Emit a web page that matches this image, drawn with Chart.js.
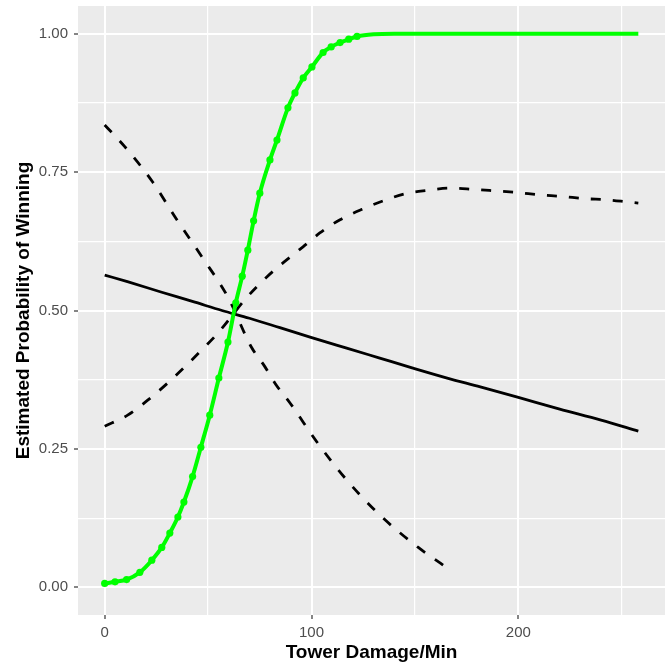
<!DOCTYPE html>
<html>
<head>
<meta charset="utf-8">
<script src="https://cdn.jsdelivr.net/npm/chart.js@4.4.1/dist/chart.umd.min.js"></script>
<style>
  body { margin: 0; background: #ffffff; }
  #wrap { width: 670px; height: 665px; }
</style>
</head>
<body>
<div id="wrap"><canvas id="myChart" width="670" height="665"></canvas></div>
<script>
// values
let xTicks = [0, 50, 100, 150, 200, 250];
let xLabels = ["0", "", "100", "", "200", ""];
let yTicks = [0, 0.125, 0.25, 0.375, 0.5, 0.625, 0.75, 0.875, 1];
let yLabels = ["0.00", "", "0.25", "", "0.50", "", "0.75", "", "1.00"];

let solidX = [0, 11, 27.6, 43.6, 56.7, 70, 84.7, 99.3, 117, 133, 149, 165.6, 181.6, 200, 220, 240, 258];
let solidY = [0.564, 0.552, 0.533, 0.515, 0.5, 0.486, 0.469, 0.452, 0.432, 0.414, 0.396, 0.378, 0.362, 0.343, 0.322, 0.302, 0.282];

let fallX = [0, 9.7, 23.2, 34.9, 47, 59.6, 70.9, 77.2, 83, 89.6, 102.7, 117.2, 133.2, 151.6, 163.7];
let fallY = [0.835, 0.796, 0.732, 0.664, 0.597, 0.524, 0.434, 0.4, 0.365, 0.333, 0.262, 0.193, 0.13, 0.072, 0.04];

let riseX = [0, 11.1, 20.8, 30.5, 38.7, 47, 54.7, 68.8, 78.5, 86.2, 95.9, 104, 113.8, 124.5, 134.6, 145.3, 156.4, 167, 177.7, 188.9, 199.5, 210.2, 221.3, 232, 243, 253, 258];
let riseY = [0.291, 0.311, 0.338, 0.369, 0.398, 0.429, 0.459, 0.524, 0.561, 0.586, 0.615, 0.64, 0.664, 0.683, 0.698, 0.711, 0.717, 0.721, 0.719, 0.716, 0.713, 0.709, 0.706, 0.702, 0.7, 0.696, 0.694];

let greenX = [0, 5, 10.6, 17, 22.8, 27.6, 31.5, 35.4, 38.3, 42.5, 46.5, 50.8, 55.2, 59.6, 63.4, 66.5, 69.2, 72, 75, 79.9, 83.3, 88.6, 92, 96, 100.2, 105.6, 109.5, 113.8, 118, 122, 130, 140, 258];
let greenY = [0.007, 0.01, 0.014, 0.027, 0.049, 0.072, 0.098, 0.127, 0.154, 0.2, 0.253, 0.311, 0.378, 0.443, 0.514, 0.562, 0.609, 0.662, 0.712, 0.772, 0.808, 0.866, 0.893, 0.92, 0.94, 0.966, 0.976, 0.984, 0.99, 0.995, 0.999, 1, 1];

function toPoints(xs, ys) {
  let pts = [];
  for (let i = 0; i < xs.length; i++) {
    pts.push({ x: xs[i], y: ys[i] });
  }
  return pts;
}

function isMajor(list, value) {
  let i = list.indexOf(value);
  return i >= 0 && (i % 2 === 0);
}

// grey ggplot panel behind the grid
let panelBg = {
  id: "panelBg",
  beforeDraw(chart) {
    let a = chart.chartArea;
    let ctx = chart.ctx;
    ctx.save();
    ctx.fillStyle = "#EBEBEB";
    ctx.fillRect(a.left, a.top, a.right - a.left, a.bottom - a.top);
    ctx.restore();
  },
};

let tickFont = { family: "'Liberation Sans', Arial, sans-serif", size: 15 };
let titleFont = { family: "'Liberation Sans', Arial, sans-serif", size: 19, weight: "bold" };

const ctx = document.getElementById("myChart");

new Chart(ctx, {
  type: "line",
  data: {
    datasets: [
      {
        label: "green",
        data: toPoints(greenX, greenY),
        borderColor: "#00FF00",
        backgroundColor: "#00FF00",
        borderWidth: 4,
        pointRadius: (c) => (c.raw && c.raw.x <= 125 ? 3.6 : 0),
        pointBorderWidth: 0,
        cubicInterpolationMode: "monotone",
        order: 0,
      },
      {
        label: "solid",
        data: toPoints(solidX, solidY),
        borderColor: "#000000",
        borderWidth: 2.8,
        pointRadius: 0,
        cubicInterpolationMode: "monotone",
        order: 1,
      },
      {
        label: "falling",
        data: toPoints(fallX, fallY),
        borderColor: "#000000",
        borderWidth: 2.8,
        borderDash: [10, 12],
        pointRadius: 0,
        cubicInterpolationMode: "monotone",
        order: 1,
      },
      {
        label: "rising",
        data: toPoints(riseX, riseY),
        borderColor: "#000000",
        borderWidth: 2.8,
        borderDash: [10, 12],
        pointRadius: 0,
        cubicInterpolationMode: "monotone",
        order: 1,
      },
    ],
  },
  options: {
    responsive: false,
    animation: false,
    layout: {
      padding: { top: 6, right: 5, left: 0, bottom: 0 },
    },
    plugins: {
      legend: { display: false },
      tooltip: { enabled: false },
    },
    scales: {
      x: {
        type: "linear",
        min: -12.9,
        max: 270.9,
        afterBuildTicks: (scale) => {
          scale.ticks = xTicks.map((v) => ({ value: v }));
        },
        afterFit: (scale) => {
          scale.height = 50;
          scale.paddingLeft = 0;
          scale.paddingRight = 0;
        },
        border: { display: false },
        grid: {
          color: "#FFFFFF",
          lineWidth: (c) => (c.tick && isMajor(xTicks, c.tick.value) ? 2 : 1.2),
          tickColor: (c) => (c.tick && isMajor(xTicks, c.tick.value) ? "#333333" : "rgba(0,0,0,0)"),
          tickLength: 4,
          tickWidth: 1.2,
        },
        ticks: {
          autoSkip: false,
          maxRotation: 0,
          padding: 5,
          color: "#4D4D4D",
          font: tickFont,
          callback: (value) => {
            let i = xTicks.indexOf(value);
            return i >= 0 ? xLabels[i] : "";
          },
        },
        title: {
          display: true,
          text: "Tower Damage/Min",
          color: "#000000",
          font: titleFont,
          padding: { top: 0, bottom: 1 },
        },
      },
      y: {
        type: "linear",
        min: -0.05,
        max: 1.05,
        afterBuildTicks: (scale) => {
          scale.ticks = yTicks.map((v) => ({ value: v }));
        },
        afterFit: (scale) => {
          scale.width = 78;
          scale.paddingTop = 0;
          scale.paddingBottom = 0;
        },
        border: { display: false },
        grid: {
          color: "#FFFFFF",
          lineWidth: (c) => (c.tick && isMajor(yTicks, c.tick.value) ? 2 : 1.2),
          tickColor: (c) => (c.tick && isMajor(yTicks, c.tick.value) ? "#333333" : "rgba(0,0,0,0)"),
          tickLength: 4,
          tickWidth: 1.2,
        },
        ticks: {
          autoSkip: false,
          padding: 6,
          color: "#4D4D4D",
          font: tickFont,
          callback: (value) => {
            let i = yTicks.indexOf(value);
            return i >= 0 ? yLabels[i] : "";
          },
        },
        title: {
          display: true,
          text: "Estimated Probability of Winning",
          color: "#000000",
          font: titleFont,
          padding: { top: 12, bottom: 0 },
        },
      },
    },
  },
  plugins: [panelBg],
});
</script>
</body>
</html>
